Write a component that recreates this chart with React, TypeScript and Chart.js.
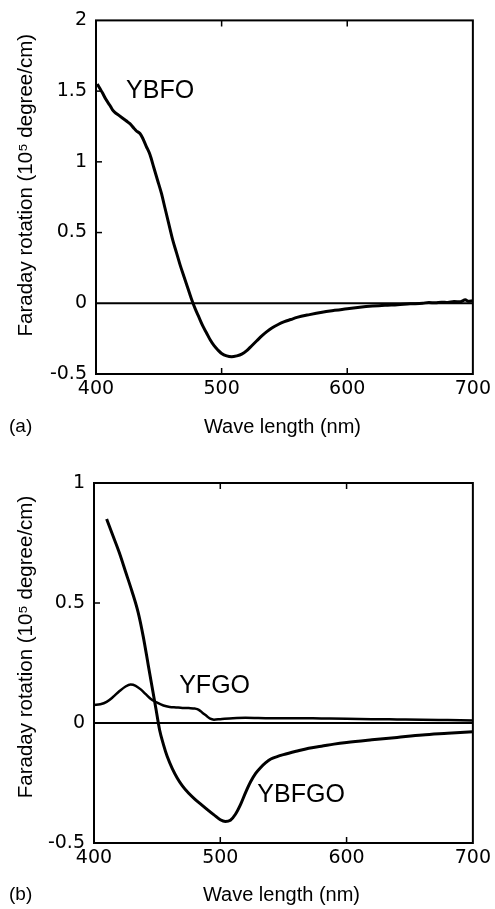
import React, { useEffect, useRef } from "react";
import { Chart, registerables } from "chart.js";

Chart.register(...registerables);

// ---------- data ----------
const X_TICKS = [400, 500, 600, 700];
const Y_TICKS_A = [-0.5, 0, 0.5, 1, 1.5, 2];
const Y_TICKS_B = [-0.5, 0, 0.5, 1];

const WL_A = [401, 403, 405, 408, 411, 413, 415, 418, 421, 424, 427, 430, 432, 435, 437, 440, 443, 446, 449, 452, 455, 458, 461, 464, 467, 470, 473, 476, 479, 482, 485, 488, 491, 494, 497, 500, 504, 508, 512, 516, 520, 524, 528, 532, 536, 540, 545, 550, 555, 560, 570, 580, 590, 600, 610, 620, 630, 640, 650, 660, 665, 670, 675, 680, 685, 690, 694, 696, 700];
const YBFO = [1.55, 1.52, 1.49, 1.44, 1.4, 1.37, 1.35, 1.33, 1.31, 1.29, 1.27, 1.24, 1.22, 1.2, 1.17, 1.11, 1.05, 0.96, 0.87, 0.78, 0.67, 0.56, 0.45, 0.36, 0.27, 0.19, 0.11, 0.03, -0.04, -0.1, -0.16, -0.21, -0.26, -0.3, -0.33, -0.355, -0.372, -0.378, -0.372, -0.36, -0.335, -0.3, -0.265, -0.23, -0.2, -0.175, -0.15, -0.13, -0.115, -0.1, -0.08, -0.063, -0.05, -0.038, -0.028, -0.02, -0.014, -0.01, -0.004, 0.0, 0.006, 0.003, 0.008, 0.005, 0.012, 0.01, 0.025, 0.015, 0.018];

const WL_YBFGO = [410, 415, 420, 425, 430, 435, 439, 443, 446, 449, 452, 455, 458, 462, 466, 470, 475, 480, 485, 490, 495, 500, 504, 508, 512, 516, 520, 524, 528, 532, 536, 540, 545, 550, 560, 570, 580, 590, 600, 620, 640, 660, 680, 700];
const YBFGO = [0.85, 0.78, 0.71, 0.63, 0.55, 0.46, 0.36, 0.24, 0.15, 0.06, -0.03, -0.09, -0.14, -0.19, -0.23, -0.262, -0.293, -0.318, -0.34, -0.362, -0.383, -0.403, -0.41, -0.405, -0.38, -0.34, -0.29, -0.245, -0.21, -0.185, -0.165, -0.15, -0.14, -0.132, -0.118, -0.105, -0.097, -0.088, -0.081, -0.07, -0.06, -0.05, -0.043, -0.036];

const WL_YFGO = [400, 405, 410, 415, 420, 425, 429, 433, 437, 441, 445, 450, 455, 460, 465, 470, 475, 480, 483, 486, 489, 492, 495, 500, 510, 520, 540, 560, 580, 600, 620, 640, 660, 680, 700];
const YFGO = [0.075, 0.078, 0.088, 0.108, 0.132, 0.152, 0.16, 0.155, 0.14, 0.12, 0.1, 0.085, 0.073, 0.067, 0.065, 0.063, 0.062, 0.06, 0.055, 0.042, 0.03, 0.018, 0.014, 0.016, 0.02, 0.022, 0.02, 0.02, 0.019, 0.018, 0.016, 0.015, 0.014, 0.012, 0.01];

const X_TITLE = "Wave length (nm)";
const Y_TITLE = "Faraday rotation (10\u2075 degree/cm)";

const FONT = "'Liberation Sans', Arial, Helvetica, sans-serif";
const TICK_FONT = "'DejaVu Sans', sans-serif";

Chart.defaults.font.family = FONT;
Chart.defaults.color = "#000";

// ---------- decoration plugin (frame, inner ticks, zero line, texts) ----------
const decor = {
  id: "decor",
  beforeDatasetsDraw(chart: any) {
    const { ctx, chartArea: a, scales } = chart;
    const y0 = scales.y.getPixelForValue(0);
    ctx.save();
    ctx.strokeStyle = "#000";
    ctx.lineWidth = 2;
    ctx.beginPath();
    ctx.moveTo(a.left, y0);
    ctx.lineTo(a.right, y0);
    ctx.stroke();
    ctx.restore();
  },
  afterDatasetsDraw(chart: any) {
    const { ctx, chartArea: a, scales } = chart;
    ctx.save();
    ctx.strokeStyle = "#000";
    ctx.lineWidth = 2;
    ctx.strokeRect(a.left, a.top, a.right - a.left, a.bottom - a.top);
    ctx.lineWidth = 1.5;
    const tl = 6;
    scales.x.ticks.forEach((t: any) => {
      const px = scales.x.getPixelForValue(t.value);
      if (px <= a.left + 1 || px >= a.right - 1) return;
      ctx.beginPath();
      ctx.moveTo(px, a.bottom);
      ctx.lineTo(px, a.bottom - tl);
      ctx.moveTo(px, a.top);
      ctx.lineTo(px, a.top + tl);
      ctx.stroke();
    });
    scales.y.ticks.forEach((t: any) => {
      const py = scales.y.getPixelForValue(t.value);
      if (py <= a.top + 1 || py >= a.bottom - 1 || t.value === 0) return;
      ctx.beginPath();
      ctx.moveTo(a.left, py);
      ctx.lineTo(a.left + tl, py);
      ctx.stroke();
    });
    ctx.restore();
  },
  afterDraw(chart: any, _args: any, opts: any) {
    const { ctx, chartArea: a, scales } = chart;
    ctx.save();
    ctx.fillStyle = "#000";
    ctx.textBaseline = "middle";
    // x title
    ctx.font = `20px ${FONT}`;
    ctx.textAlign = "center";
    ctx.fillText(X_TITLE, (a.left + a.right) / 2 - 2, a.bottom + opts.xTitleOffset);
    // panel letter
    ctx.font = `19px ${FONT}`;
    ctx.textAlign = "left";
    ctx.fillText(opts.panel, 9, a.bottom + opts.xTitleOffset);
    // y title
    ctx.save();
    ctx.translate(26, (a.top + a.bottom) / 2 + opts.yTitleShift);
    ctx.rotate(-Math.PI / 2);
    ctx.font = `20.5px ${FONT}`;
    ctx.textAlign = "center";
    ctx.fillText(Y_TITLE, 0, 0);
    ctx.restore();
    // curve labels
    ctx.font = `25px ${FONT}`;
    ctx.textAlign = "center";
    (opts.labels || []).forEach((l: any) => {
      ctx.fillText(l.text, scales.x.getPixelForValue(l.x), scales.y.getPixelForValue(l.y));
    });
    ctx.restore();
  },
};

function lineDs(xs: number[], ys: number[], width: number) {
  return {
    type: "line" as const,
    data: xs.map((x, i) => ({ x, y: ys[i] })),
    borderColor: "#000",
    borderWidth: width,
    pointRadius: 0,
    fill: false,
    cubicInterpolationMode: "monotone" as const,
  };
}

function makeConfig(p: any): any {
  const yTicks: number[] = p.yTicks;
  return {
    type: "line",
    data: { datasets: p.datasets },
    plugins: [decor],
    options: {
      animation: false,
      responsive: false,
      maintainAspectRatio: false,
      events: [],
      layout: { padding: { left: 0, right: 21, top: p.padTop, bottom: p.padBottom } },
      plugins: {
        legend: { display: false },
        tooltip: { enabled: false },
        decor: {
          panel: p.panel,
          labels: p.labels,
          xTitleOffset: p.xTitleOffset,
          yTitleShift: p.yTitleShift,
        },
      },
      scales: {
        x: {
          type: "linear",
          min: X_TICKS[0],
          max: X_TICKS[X_TICKS.length - 1],
          afterBuildTicks: (s: any) => {
            s.ticks = X_TICKS.map((v) => ({ value: v }));
          },
          grid: { display: false, drawTicks: false },
          border: { display: false },
          ticks: {
            padding: 4,
            font: { size: 19, family: TICK_FONT },
            color: "#000",
            maxRotation: 0,
            callback: (v: any) => String(v),
          },
          afterFit: (s: any) => {
            s.height = 40;
          },
        },
        y: {
          type: "linear",
          min: yTicks[0],
          max: yTicks[yTicks.length - 1],
          afterBuildTicks: (s: any) => {
            s.ticks = yTicks.map((v) => ({ value: v }));
          },
          grid: { display: false, drawTicks: false },
          border: { display: false },
          ticks: {
            padding: 9,
            font: { size: 19, family: TICK_FONT },
            color: "#000",
            callback: (v: any) => String(v),
          },
          afterFit: (s: any) => {
            s.width = p.yAxisWidth;
          },
        },
      },
    },
  };
}

function Panel(props: { top: number; height: number; make: () => any }) {
  const ref = useRef<HTMLCanvasElement>(null);
  useEffect(() => {
    const chart = new Chart(ref.current as HTMLCanvasElement, props.make());
    return () => chart.destroy();
  }, []);
  return (
    <canvas
      ref={ref}
      width={495}
      height={props.height}
      style={{ position: "absolute", left: 0, top: props.top, width: 495, height: props.height, display: "block" }}
    />
  );
}

export default function App() {
  const makeA = () =>
    makeConfig({
      datasets: [lineDs(WL_A, YBFO, 3)],
      yTicks: Y_TICKS_A,
      padTop: 16,
      padBottom: 450 - 374 - 40,
      yAxisWidth: 96,
      panel: "(a)",
      xTitleOffset: 53,
      yTitleShift: -12,
      labels: [{ text: "YBFO", x: 451, y: 1.5 }],
    });
  const makeB = () =>
    makeConfig({
      datasets: [lineDs(WL_YBFGO, YBFGO, 3), lineDs(WL_YFGO, YFGO, 2.5)],
      yTicks: Y_TICKS_B,
      padTop: 33,
      padBottom: 459 - 393 - 40,
      yAxisWidth: 94,
      panel: "(b)",
      xTitleOffset: 52,
      yTitleShift: -16,
      labels: [
        { text: "YFGO", x: 495.5, y: 0.154 },
        { text: "YBFGO", x: 564, y: -0.3 },
      ],
    });
  return (
    <div style={{ position: "absolute", left: 0, top: 0, width: 495, height: 909, background: "#fff" }}>
      <Panel top={0} height={450} make={makeA} />
      <Panel top={450} height={459} make={makeB} />
    </div>
  );
}
